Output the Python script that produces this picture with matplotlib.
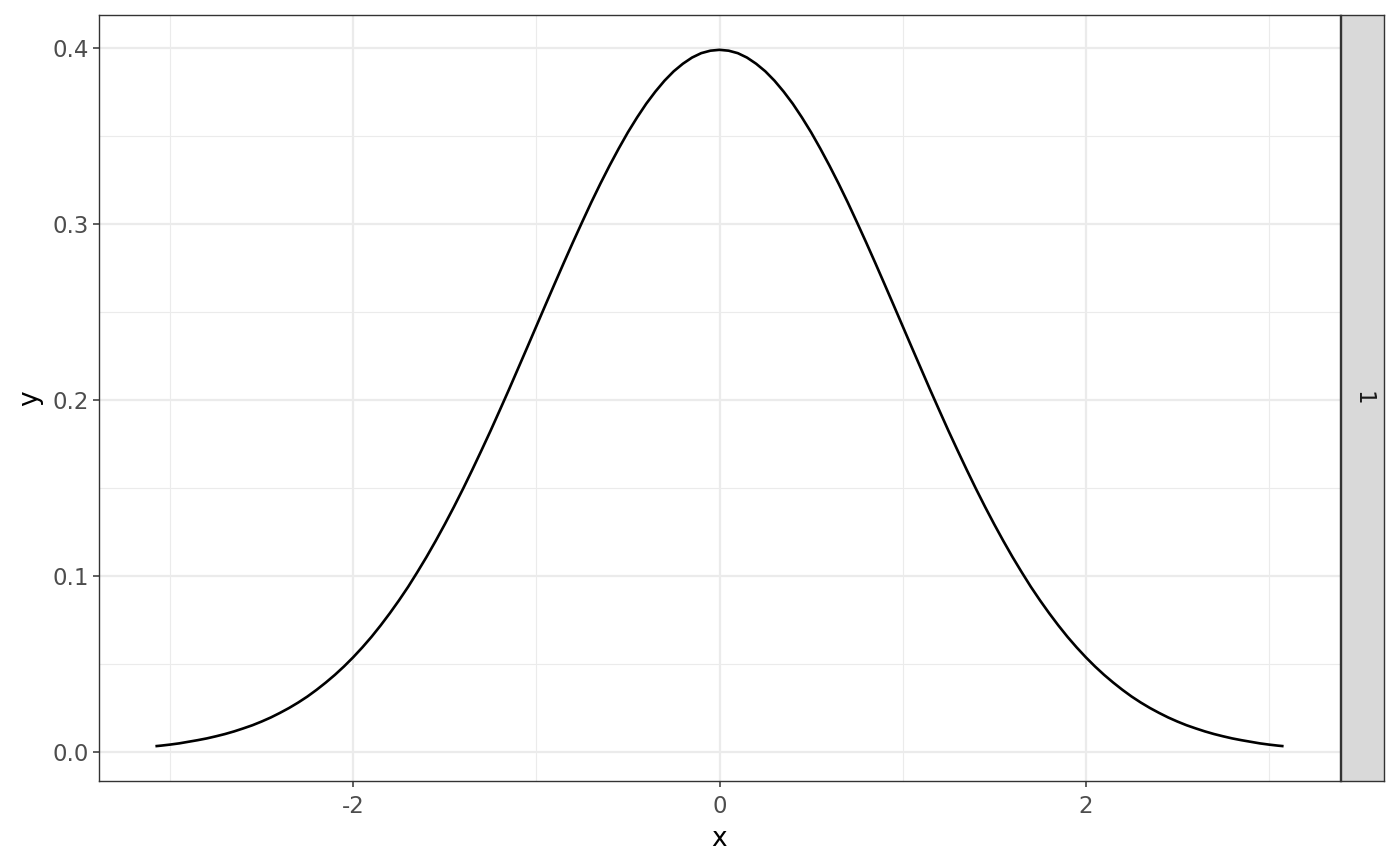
import matplotlib
matplotlib.use("Agg")
import matplotlib.pyplot as plt

x_vals = [-3.08, -3.05, -3.00, -2.95, -2.90, -2.85, -2.80, -2.75, -2.70, -2.65, -2.60, -2.55,
          -2.50, -2.45, -2.40, -2.35, -2.30, -2.25, -2.20, -2.15, -2.10, -2.05, -2.00,
          -1.95, -1.90, -1.85, -1.80, -1.75, -1.70, -1.65, -1.60, -1.55, -1.50,
          -1.45, -1.40, -1.35, -1.30, -1.25, -1.20, -1.15, -1.10, -1.05, -1.00,
          -0.95, -0.90, -0.85, -0.80, -0.75, -0.70, -0.65, -0.60, -0.55, -0.50,
          -0.45, -0.40, -0.35, -0.30, -0.25, -0.20, -0.15, -0.10, -0.05, 0.00,
          0.05, 0.10, 0.15, 0.20, 0.25, 0.30, 0.35, 0.40, 0.45, 0.50,
          0.55, 0.60, 0.65, 0.70, 0.75, 0.80, 0.85, 0.90, 0.95, 1.00,
          1.05, 1.10, 1.15, 1.20, 1.25, 1.30, 1.35, 1.40, 1.45, 1.50,
          1.55, 1.60, 1.65, 1.70, 1.75, 1.80, 1.85, 1.90, 1.95, 2.00,
          2.05, 2.10, 2.15, 2.20, 2.25, 2.30, 2.35, 2.40, 2.45, 2.50,
          2.55, 2.60, 2.65, 2.70, 2.75, 2.80, 2.85, 2.90, 2.95, 3.00, 3.05, 3.08]
y_vals = [0.0035, 0.0038, 0.0044, 0.0051, 0.0060, 0.0069, 0.0079, 0.0091, 0.0104, 0.0119, 0.0136, 0.0154,
          0.0175, 0.0198, 0.0224, 0.0252, 0.0283, 0.0317, 0.0355, 0.0396, 0.0440, 0.0488, 0.0540,
          0.0596, 0.0656, 0.0721, 0.0790, 0.0863, 0.0940, 0.1023, 0.1109, 0.1200, 0.1295,
          0.1394, 0.1497, 0.1604, 0.1714, 0.1826, 0.1942, 0.2059, 0.2179, 0.2299, 0.2420,
          0.2541, 0.2661, 0.2780, 0.2897, 0.3011, 0.3123, 0.3230, 0.3332, 0.3429, 0.3521,
          0.3605, 0.3683, 0.3752, 0.3814, 0.3867, 0.3910, 0.3945, 0.3970, 0.3984, 0.3989,
          0.3984, 0.3970, 0.3945, 0.3910, 0.3867, 0.3814, 0.3752, 0.3683, 0.3605, 0.3521,
          0.3429, 0.3332, 0.3230, 0.3123, 0.3011, 0.2897, 0.2780, 0.2661, 0.2541, 0.2420,
          0.2299, 0.2179, 0.2059, 0.1942, 0.1826, 0.1714, 0.1604, 0.1497, 0.1394, 0.1295,
          0.1200, 0.1109, 0.1023, 0.0940, 0.0863, 0.0790, 0.0721, 0.0656, 0.0596, 0.0540,
          0.0488, 0.0440, 0.0396, 0.0355, 0.0317, 0.0283, 0.0252, 0.0224, 0.0198, 0.0175,
          0.0154, 0.0136, 0.0119, 0.0104, 0.0091, 0.0079, 0.0069, 0.0060, 0.0051, 0.0044, 0.0038, 0.0035]
x_ticks = [-2, 0, 2]
x_tick_labels = ["-2", "0", "2"]
x_minor = [-3, -1, 1, 3]
y_ticks = [0.0, 0.1, 0.2, 0.3, 0.4]
y_tick_labels = ["0.0", "0.1", "0.2", "0.3", "0.4"]
y_minor = [0.05, 0.15, 0.25, 0.35]
facet_label = "1"

fig = plt.figure(figsize=(14, 8.66), dpi=100)
ax = fig.add_axes([99/1400, 85/866, 1241/1400, 766/866])

xmin, xmax = min(x_vals), max(x_vals)
ymin, ymax = min(y_vals), max(y_vals)
xr, yr = xmax - xmin, ymax - ymin
ax.set_xlim(xmin - 0.05*xr, xmax + 0.05*xr)
ax.set_ylim(ymin - 0.05*yr, ymax + 0.05*yr)

for v in x_minor:
    ax.axvline(v, color="#EBEBEB", lw=0.8, zorder=0)
for v in y_minor:
    ax.axhline(v, color="#EBEBEB", lw=0.8, zorder=0)
for v in x_ticks:
    ax.axvline(v, color="#EBEBEB", lw=1.6, zorder=0)
for v in y_ticks:
    ax.axhline(v, color="#EBEBEB", lw=1.6, zorder=0)

ax.plot(x_vals, y_vals, color="black", lw=1.9, zorder=2, solid_capstyle="butt")

ax.set_xticks(x_ticks)
ax.set_xticklabels(x_tick_labels)
ax.set_yticks(y_ticks)
ax.set_yticklabels(y_tick_labels)
ax.tick_params(axis="both", colors="#333333", labelcolor="#4D4D4D", labelsize=16.5,
               length=4, width=1.1, direction="out", pad=3)
ax.tick_params(axis="x", pad=6)
for s in ax.spines.values():
    s.set_color("#333333")
    s.set_linewidth(1.0)
ax.set_xlabel("x", fontsize=19, color="black", labelpad=6)
ax.set_ylabel("y", fontsize=19, color="black", labelpad=7)

sax = fig.add_axes([1341/1400, 85/866, 43/1400, 766/866])
sax.set_facecolor("#D9D9D9")
sax.set_xticks([])
sax.set_yticks([])
for s in sax.spines.values():
    s.set_color("#333333")
    s.set_linewidth(1.0)
sax.text(0.5, 0.5, facet_label, rotation=-90, ha="center", va="center",
         fontsize=16.5, color="#1A1A1A", transform=sax.transAxes)

fig.savefig("out.png", dpi=100)
